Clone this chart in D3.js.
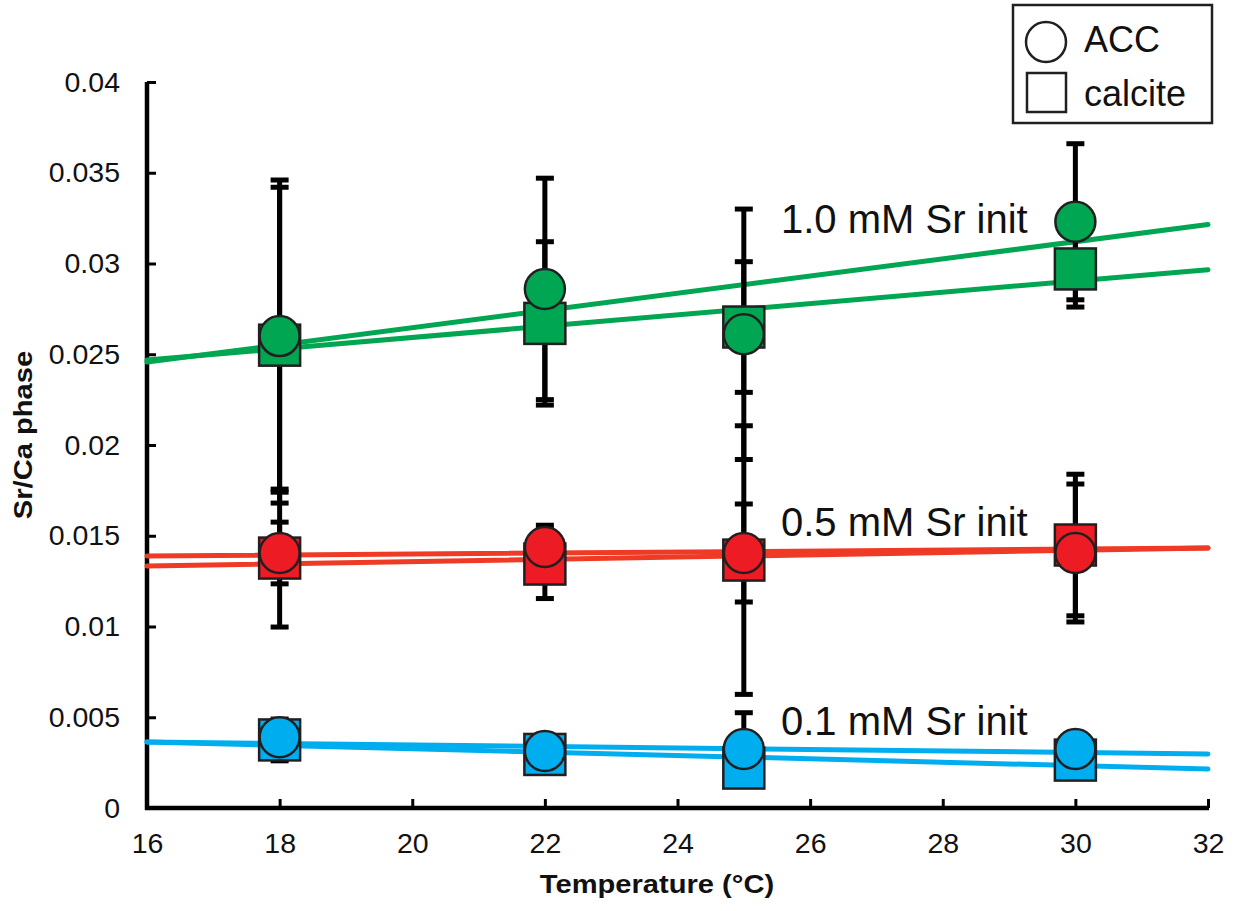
<!DOCTYPE html>
<html>
<head>
<meta charset="utf-8">
<script src="https://cdn.jsdelivr.net/npm/d3@7"></script>
<style>
  html, body { margin: 0; padding: 0; background: #fff; }
  svg { display: block; font-family: "Liberation Sans", Arial, Helvetica, sans-serif; }
</style>
</head>
<body>
<svg id="chart" width="1236" height="911"></svg>
<script>
// Temperatures of the experiments (°C)
const temps = [18, 22, 25, 30];

// Sr/Ca in the solid phase, per initial Sr concentration
const acc10 = [0.0260, 0.0286, 0.0261, 0.0323];
const acc10Err = [0.0086, 0.0061, 0.0069, 0.0043];
const cal10 = [0.0255, 0.0267, 0.0265, 0.0297];
const cal10Err = [0.0087, 0.0045, 0.0036, 0.0021];

const acc05 = [0.01405, 0.01438, 0.01405, 0.01405];
const acc05Err = [0.0017, 0.0012, 0.0027, 0.0038];
const cal05 = [0.01377, 0.01344, 0.01366, 0.01449];
const cal05Err = [0.0038, 0.0019, 0.0074, 0.0039];

const acc01 = [0.0039, 0.00314, 0.00325, 0.00325];
const acc01Err = [0.0004, 0.0004, 0.0020, 0.0004];
const cal01 = [0.00375, 0.00295, 0.0022, 0.00264];
const cal01Err = [0.00115, 0.0004, 0.0004, 0.0004];

// Linear fits: value at 16 °C and at 32 °C
const fitX = [16, 32];
const fitAcc10 = [0.02457, 0.03215];
const fitCal10 = [0.02468, 0.02966];
const fitAcc05 = [0.01388, 0.01432];
const fitCal05 = [0.01333, 0.01432];
const fitAcc01 = [0.00364, 0.00298];
const fitCal01 = [0.00364, 0.00215];

// Axis ticks
const xTicks = [16, 18, 20, 22, 24, 26, 28, 30, 32];
const xTickLabels = ["16", "18", "20", "22", "24", "26", "28", "30", "32"];
const yTicks = [0, 0.005, 0.01, 0.015, 0.02, 0.025, 0.03, 0.035, 0.04];
const yTickLabels = ["0", "0.005", "0.01", "0.015", "0.02", "0.025", "0.03", "0.035", "0.04"];

const seriesLabels = ["1.0 mM Sr init", "0.5 mM Sr init", "0.1 mM Sr init"];
const legendLabels = ["ACC", "calcite"];

const GREEN = "#00a651", RED = "#ed1c24", RED_LINE = "#ef3a25", BLUE = "#00aeef";
const OUTLINE = "#231f20";

const groups = [
  { color: GREEN, line: GREEN, acc: acc10, accErr: acc10Err, cal: cal10, calErr: cal10Err, fitAcc: fitAcc10, fitCal: fitCal10, label: seriesLabels[0], labelVal: 0.0317 },
  { color: RED, line: RED_LINE, acc: acc05, accErr: acc05Err, cal: cal05, calErr: cal05Err, fitAcc: fitAcc05, fitCal: fitCal05, label: seriesLabels[1], labelVal: 0.01497 },
  { color: BLUE, line: BLUE, acc: acc01, accErr: acc01Err, cal: cal01, calErr: cal01Err, fitAcc: fitAcc01, fitCal: fitCal01, label: seriesLabels[2], labelVal: 0.00400 }
];

const svg = d3.select("#chart");
const x = d3.scaleLinear().domain([16, 32]).range([147, 1208]);
const y = d3.scaleLinear().domain([0, 0.04]).range([808, 82]);

// Axes with inward ticks
const xAxis = d3.axisBottom(x).tickValues(xTicks)
  .tickFormat((d, i) => xTickLabels[i]).tickSizeInner(-9).tickSizeOuter(0).tickPadding(25);
const yAxis = d3.axisLeft(y).tickValues(yTicks)
  .tickFormat((d, i) => yTickLabels[i]).tickSizeInner(-9).tickSizeOuter(0).tickPadding(27);

const gx = svg.append("g").attr("transform", `translate(0,${y(0)})`).call(xAxis);
const gy = svg.append("g").attr("transform", `translate(${x(16)},0)`).call(yAxis);
[gx, gy].forEach(g => {
  g.select(".domain").attr("stroke", "#000").attr("stroke-width", 4.5);
  g.selectAll(".tick line").attr("stroke", "#000").attr("stroke-width", 3);
  g.selectAll(".tick text").attr("fill", "#111").attr("font-size", 28.5)
    .attr("font-family", "'Liberation Sans', Arial, sans-serif");
});
gx.select(".domain").attr("d", `M${x(16) - 2},0H${x(32) + 1}`);
gy.select(".domain").attr("d", `M0,${y(0.04)}V${y(0) + 2}`);

// Axis titles
svg.append("text").attr("x", 657).attr("y", 893).attr("text-anchor", "middle")
  .attr("font-size", 26).attr("font-weight", "bold").attr("fill", "#111")
  .attr("transform", "translate(657,0) scale(1.12,1) translate(-657,0)")
  .text("Temperature (°C)");
svg.append("text").attr("transform", "translate(32,435) rotate(-90) scale(1.12,1)")
  .attr("text-anchor", "middle").attr("font-size", 26).attr("font-weight", "bold").attr("fill", "#111")
  .text("Sr/Ca phase");

const line = d3.line().x((d, i) => x(fitX[i])).y(d => y(d));

// Fitted trend lines
const gLines = svg.append("g");
groups.forEach(g => {
  [g.fitAcc, g.fitCal].forEach(f => {
    gLines.append("path").datum(f).attr("d", line)
      .attr("fill", "none").attr("stroke", g.line).attr("stroke-width", 5)
      .attr("stroke-linecap", "round");
  });
});

// Error bars
const gErr = svg.append("g");
const capW = 9;
groups.forEach(g => {
  [[g.acc, g.accErr], [g.cal, g.calErr]].forEach(([vals, errs]) => {
    temps.forEach((t, i) => {
      const cx = x(t), lo = y(vals[i] - errs[i]), hi = y(vals[i] + errs[i]);
      gErr.append("line").attr("x1", cx).attr("x2", cx).attr("y1", lo).attr("y2", hi)
        .attr("stroke", "#000").attr("stroke-width", 5);
      [lo, hi].forEach(yy => {
        gErr.append("line").attr("x1", cx - capW).attr("x2", cx + capW).attr("y1", yy).attr("y2", yy)
          .attr("stroke", "#000").attr("stroke-width", 5);
      });
    });
  });
});

// Calcite squares, then ACC circles on top
const side = 41, r = 20;
const gSq = svg.append("g"), gCi = svg.append("g");
groups.forEach(g => {
  gSq.selectAll(null).data(g.cal).join("rect")
    .attr("x", (d, i) => x(temps[i]) - side / 2).attr("y", d => y(d) - side / 2)
    .attr("width", side).attr("height", side)
    .attr("fill", g.color).attr("stroke", OUTLINE).attr("stroke-width", 2.5);
});
groups.forEach(g => {
  gCi.selectAll(null).data(g.acc).join("circle")
    .attr("cx", (d, i) => x(temps[i])).attr("cy", d => y(d)).attr("r", r)
    .attr("fill", g.color).attr("stroke", OUTLINE).attr("stroke-width", 2.5);
});

// Series annotations
groups.forEach(g => {
  svg.append("text").attr("x", 781).attr("y", y(g.labelVal))
    .attr("font-size", 40).attr("fill", "#111").text(g.label);
});

// Legend
const lg = svg.append("g");
lg.append("rect").attr("x", 1013).attr("y", 5).attr("width", 199).attr("height", 118)
  .attr("fill", "#fff").attr("stroke", OUTLINE).attr("stroke-width", 2.5);
lg.append("circle").attr("cx", 1046).attr("cy", 42).attr("r", 20)
  .attr("fill", "#fff").attr("stroke", OUTLINE).attr("stroke-width", 2.5);
lg.append("rect").attr("x", 1027).attr("y", 73).attr("width", 39).attr("height", 39)
  .attr("fill", "#fff").attr("stroke", OUTLINE).attr("stroke-width", 2.5);
lg.append("text").attr("x", 1084).attr("y", 52).attr("font-size", 36).attr("fill", "#111").text(legendLabels[0]);
lg.append("text").attr("x", 1084).attr("y", 106).attr("font-size", 36).attr("fill", "#111").text(legendLabels[1]);
</script>
</body>
</html>
